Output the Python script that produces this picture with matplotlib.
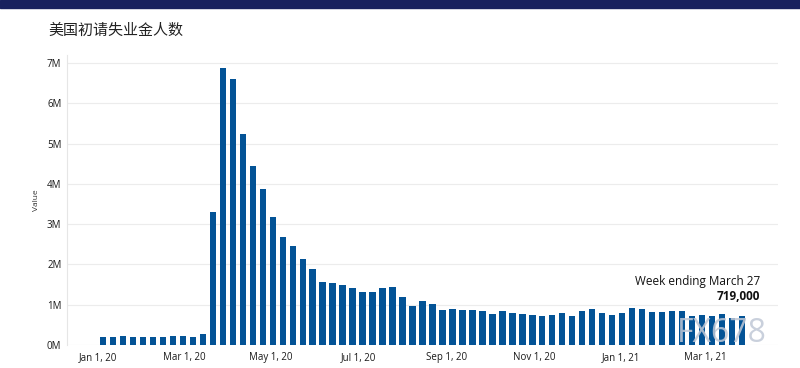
import matplotlib
matplotlib.use('Agg')
import matplotlib.pyplot as plt
import matplotlib.dates as mdates
from matplotlib.ticker import FuncFormatter
import pandas as pd

# weekly initial jobless claims, week ending dates (Saturdays)
week_start = '2020-01-04'
week_end = '2021-03-27'
claims_m = [
    0.21, 0.21, 0.22, 0.21, 0.20, 0.21, 0.21, 0.22, 0.22, 0.21, 0.28,
    3.307, 6.867, 6.615, 5.237, 4.442, 3.867, 3.176, 2.687, 2.446, 2.123,
    1.897, 1.566, 1.540, 1.482, 1.413, 1.310, 1.307, 1.422, 1.435, 1.191,
    0.971, 1.104, 1.011, 0.881, 0.893, 0.866, 0.873, 0.849, 0.767, 0.842,
    0.794, 0.758, 0.757, 0.711, 0.748, 0.787, 0.716, 0.853, 0.885, 0.803,
    0.751,
    0.784, 0.926, 0.886, 0.812, 0.812, 0.848, 0.841, 0.730, 0.745, 0.712,
    0.770, 0.658, 0.719,
]
tick_dates = ['2020-01-01', '2020-03-01', '2020-05-01', '2020-07-01', '2020-09-01',
              '2020-11-01', '2021-01-01', '2021-03-01']
title = '美国初请失业金人数'
note_label = 'Week ending March 27'
note_value = '719,000'

weeks = pd.date_range(week_start, week_end, freq='W-SAT')
values = [v * 1e6 for v in claims_m]

plt.rcParams['font.family'] = ['Open Sans', 'Noto Sans CJK SC', 'DejaVu Sans']

fig = plt.figure(figsize=(8, 3.68), dpi=100)
# top navy band
fig.patches.append(plt.Rectangle((0, 1 - 8 / 368), 1, 8 / 368, transform=fig.transFigure,
                                 color='#18215e', zorder=5))
fig.text(48 / 800, 1 - 31 / 368, title, family=['Noto Sans CJK SC', 'DejaVu Sans'],
         fontsize=10.8, color='#222222', va='center', ha='left')

ax = fig.add_axes([67 / 800, 23 / 368, (778 - 67) / 800, (345 - 55) / 368])
ax.bar(weeks, values, width=4.3, color='#035396', zorder=3)

ax.set_ylim(0, 7.2e6)
ax.set_xlim(pd.Timestamp('2019-12-10'), pd.Timestamp('2021-04-21'))
ax.set_yticks([i * 1e6 for i in range(8)])
ax.yaxis.set_major_formatter(FuncFormatter(lambda v, p: '%dM' % round(v / 1e6)))
ax.set_xticks(pd.to_datetime(tick_dates))
ax.xaxis.set_major_formatter(mdates.DateFormatter('%b %-d, %y'))
ax.grid(axis='y', color='#ececec', linewidth=0.8, zorder=0)
ax.tick_params(length=0, labelsize=7, colors='#1a1a1a', pad=5)
ax.tick_params(axis='y', pad=4)
for s in ['top', 'right', 'bottom']:
    ax.spines[s].set_visible(False)
ax.spines['left'].set_color('#e6e6e6')
ax.set_ylabel('Value', fontsize=6, color='#333333', labelpad=5)

fig.text(760 / 800, 1 - 281 / 368, note_label, ha='right', va='center',
         fontsize=8.5, color='#111111')
fig.text(760 / 800, 1 - 296 / 368, note_value, ha='right', va='center',
         fontsize=8.5, color='#111111', fontweight='bold')
# watermark
fig.text(722 / 800, 1 - 333 / 368, 'FX678', ha='center', va='center', fontsize=23,
         color='#c0c8d6', alpha=0.85, zorder=6)

fig.savefig('out.png', dpi=100, facecolor='white')
